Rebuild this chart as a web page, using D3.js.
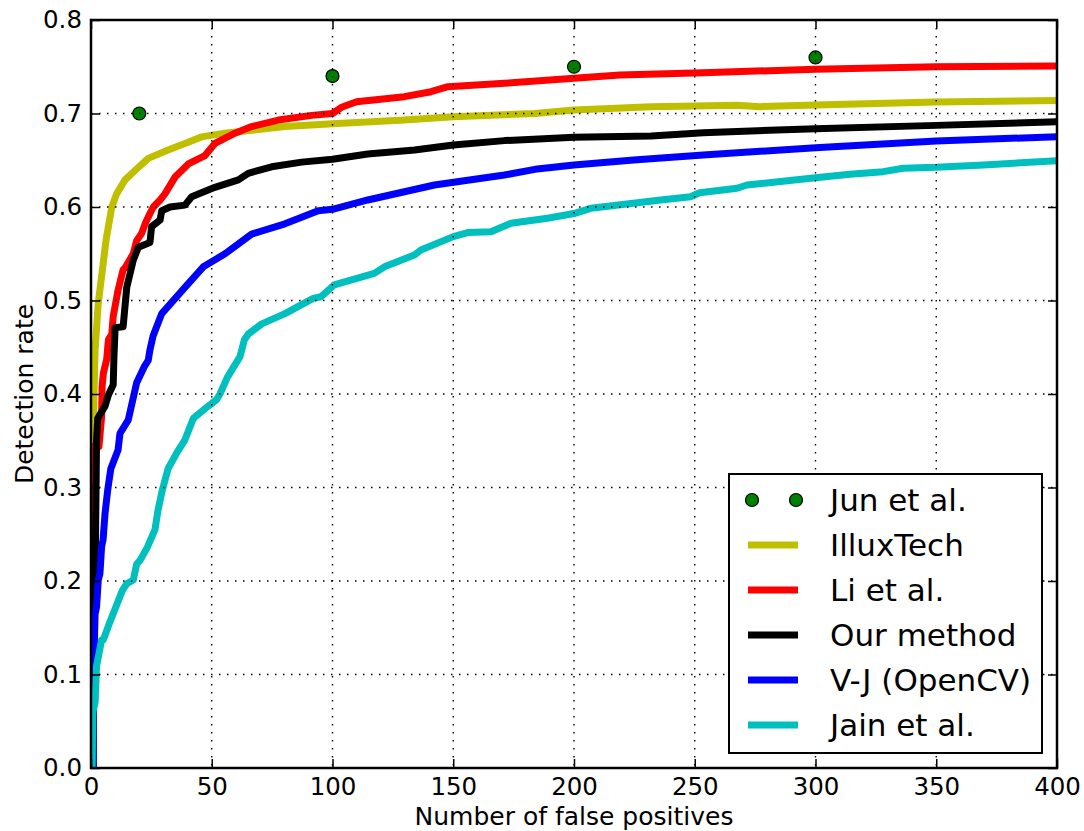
<!DOCTYPE html>
<html><head><meta charset="utf-8">
<script src="https://cdn.jsdelivr.net/npm/d3@7"></script>
<style>body{margin:0;background:#fff}svg{display:block;font-family:"DejaVu Sans",sans-serif}</style>
</head><body><svg id="c" width="1084" height="831"></svg>
<script>
const xTicks = [0, 50, 100, 150, 200, 250, 300, 350, 400];
const yTicks = [0.0, 0.1, 0.2, 0.3, 0.4, 0.5, 0.6, 0.7, 0.8];
const seriesNames = ["Jun et al.", "IlluxTech", "Li et al.", "Our method", "V-J (OpenCV)", "Jain et al."];
const seriesColors = ["#008000", "#bfbf00", "#ff0000", "#000000", "#0000ff", "#00bfbf"];

const junX = [20, 100, 200, 300];
const junY = [0.70, 0.74, 0.75, 0.76];

const illuxX = [0, 1.0, 1.2, 1.7, 3.0, 4.4, 6.2, 8.6, 10.6, 14.1, 18.2, 23.7, 31.9, 38.9, 45.8, 55.5, 66.5, 80.3, 100, 129.8, 150, 183.8, 200, 232, 250, 267.5, 277, 300, 350, 400];
const illuxY = [0.30, 0.344, 0.394, 0.447, 0.497, 0.526, 0.564, 0.600, 0.614, 0.629, 0.639, 0.652, 0.661, 0.668, 0.675, 0.679, 0.682, 0.686, 0.689, 0.693, 0.6966, 0.700, 0.7037, 0.7073, 0.708, 0.7087, 0.7073, 0.709, 0.7123, 0.714];

const liX = [0, 0.5, 0.8, 3.3, 4.4, 4.6, 5.1, 6.5, 7.2, 8.6, 9.2, 11.2, 13.3, 14.1, 17.5, 18.9, 21, 22.4, 24.4, 25.8, 28.6, 30.6, 34.8, 40.3, 47.2, 51.3, 59.6, 66.5, 77.6, 91.4, 100, 104, 110, 129.8, 140.8, 147.8, 171.2, 200, 219, 253.5, 300, 350, 400];
const liY = [0.16, 0.30, 0.344, 0.344, 0.376, 0.408, 0.422, 0.437, 0.458, 0.464, 0.483, 0.511, 0.533, 0.535, 0.550, 0.564, 0.572, 0.582, 0.593, 0.600, 0.6075, 0.614, 0.632, 0.646, 0.655, 0.668, 0.679, 0.686, 0.693, 0.698, 0.700, 0.707, 0.7126, 0.718, 0.7233, 0.7287, 0.7323, 0.7376, 0.7412, 0.7437, 0.7473, 0.750, 0.7508];

const ourX = [0, 1, 1.7, 2.3, 2.8, 5.8, 7.2, 9.2, 9.5, 10, 13.3, 14.8, 17.5, 19.6, 24.4, 25.1, 28.6, 29.3, 32.7, 38.9, 41.7, 51.3, 61, 65.1, 74.8, 87.2, 100, 114.6, 134, 150, 171.2, 200, 232, 253.5, 300, 350, 400];
const ourY = [0.0, 0.10, 0.20, 0.351, 0.374, 0.387, 0.399, 0.410, 0.440, 0.471, 0.472, 0.514, 0.543, 0.557, 0.562, 0.579, 0.586, 0.596, 0.600, 0.602, 0.611, 0.621, 0.629, 0.636, 0.643, 0.648, 0.651, 0.6567, 0.661, 0.6663, 0.671, 0.6745, 0.676, 0.6795, 0.6838, 0.6873, 0.6912];

const vjX = [1, 1.0, 1.7, 2.3, 3, 3.7, 4.4, 5, 5.8, 6.9, 8.2, 11.2, 12, 15.4, 18.9, 22, 23.7, 24.4, 25.7, 29.3, 38.9, 46.5, 55.5, 66.5, 80.3, 94.1, 100, 114.6, 142.2, 171.2, 183.8, 200, 224.7, 253.5, 300, 350, 400];
const vjY = [0.0, 0.094, 0.165, 0.172, 0.201, 0.208, 0.237, 0.244, 0.272, 0.297, 0.320, 0.340, 0.358, 0.372, 0.412, 0.429, 0.436, 0.447, 0.462, 0.486, 0.514, 0.536, 0.550, 0.571, 0.582, 0.596, 0.5975, 0.6075, 0.6235, 0.6342, 0.6403, 0.645, 0.6503, 0.6556, 0.6634, 0.6706, 0.6752];

const jainX = [0.5, 0.7, 1.7, 2.3, 4.4, 5.1, 7.5, 13, 14.8, 17.5, 18.9, 20.3, 23.3, 26.5, 27.7, 29.5, 31.9, 35.5, 38.9, 42.4, 48.5, 52, 53.4, 56.5, 61.7, 63.5, 65.1, 70.7, 80.3, 92, 95.2, 100.7, 117.3, 121.5, 133.9, 136.6, 150, 156, 165.6, 173.9, 189, 200, 206.9, 235.9, 248.3, 252, 267.5, 271.6, 300, 314.2, 328, 336.3, 350, 369.6, 400];
const jainY = [0.0, 0.059, 0.070, 0.109, 0.137, 0.137, 0.154, 0.190, 0.197, 0.201, 0.218, 0.222, 0.236, 0.255, 0.275, 0.297, 0.320, 0.337, 0.351, 0.374, 0.387, 0.394, 0.400, 0.418, 0.440, 0.458, 0.464, 0.475, 0.486, 0.5023, 0.504, 0.5166, 0.529, 0.536, 0.5487, 0.554, 0.5683, 0.5726, 0.5736, 0.5826, 0.588, 0.593, 0.5986, 0.6075, 0.611, 0.6153, 0.620, 0.6235, 0.6313, 0.635, 0.6378, 0.6414, 0.6424, 0.645, 0.6495];

const lineSeries = [
  {name: seriesNames[1], color: seriesColors[1], xs: illuxX, ys: illuxY},
  {name: seriesNames[2], color: seriesColors[2], xs: liX, ys: liY},
  {name: seriesNames[3], color: seriesColors[3], xs: ourX, ys: ourY},
  {name: seriesNames[4], color: seriesColors[4], xs: vjX, ys: vjY},
  {name: seriesNames[5], color: seriesColors[5], xs: jainX, ys: jainY}
];

const L = 91, R = 1057, T = 20, B = 768;
const svg = d3.select("#c");
const x = d3.scaleLinear().domain([0, 400]).range([L, R]);
const y = d3.scaleLinear().domain([0, 0.8]).range([B, T]);

svg.append("defs").append("clipPath").attr("id", "clip")
  .append("rect").attr("x", L).attr("y", T).attr("width", R - L).attr("height", B - T);

const plot = svg.append("g").attr("clip-path", "url(#clip)");
const line = d3.line().x(d => x(d[0])).y(d => y(d[1]));
lineSeries.forEach(s => {
  const pts = s.xs.map((v, i) => [v, s.ys[i]]);
  plot.append("path").datum(pts).attr("d", line)
    .attr("fill", "none").attr("stroke", s.color).attr("stroke-width", 7)
    .attr("stroke-linejoin", "round").attr("stroke-linecap", "butt");
});

// grid (on top, classic style)
const grid = svg.append("g");
xTicks.slice(1, -1).forEach(t => grid.append("line").attr("x1", x(t)).attr("x2", x(t)).attr("y1", T).attr("y2", B)
  .attr("stroke", "#000").attr("stroke-width", 1.4).attr("stroke-dasharray", "1.5,6.5"));
yTicks.slice(1, -1).forEach(t => grid.append("line").attr("y1", y(t)).attr("y2", y(t)).attr("x1", L).attr("x2", R)
  .attr("stroke", "#000").attr("stroke-width", 1.4).attr("stroke-dasharray", "1.5,6.5"));

// Jun et al. markers
plot.selectAll("circle.jun").data(junX.map((v, i) => [v, junY[i]])).enter().append("circle")
  .attr("cx", d => x(d[0])).attr("cy", d => y(d[1])).attr("r", 6.5)
  .attr("fill", seriesColors[0]).attr("stroke", "#000").attr("stroke-width", 1.2);

// axes with inward ticks on all sides
const tl = 9;
const fmtY = d3.format(".1f");
const axB = svg.append("g").attr("transform", `translate(0,${B})`).call(d3.axisBottom(x).tickValues(xTicks).tickSizeInner(-tl).tickSizeOuter(0).tickPadding(14).tickFormat(d3.format("d")));
const axT = svg.append("g").attr("transform", `translate(0,${T})`).call(d3.axisTop(x).tickValues(xTicks).tickSizeInner(-tl).tickSizeOuter(0).tickFormat(""));
const axL = svg.append("g").attr("transform", `translate(${L},0)`).call(d3.axisLeft(y).tickValues(yTicks).tickSizeInner(-tl).tickSizeOuter(0).tickPadding(9).tickFormat(fmtY));
const axR = svg.append("g").attr("transform", `translate(${R},0)`).call(d3.axisRight(y).tickValues(yTicks).tickSizeInner(-tl).tickSizeOuter(0).tickFormat(""));
[axB, axT, axL, axR].forEach(a => {
  a.select(".domain").remove();
  a.selectAll(".tick line").attr("stroke", "#000").attr("stroke-width", 1.5);
  a.selectAll("text").attr("font-size", 24.5).attr("font-family", "DejaVu Sans").attr("fill", "#000");
});
axB.selectAll("text").attr("dy", "0.71em").attr("y", 10);
svg.append("rect").attr("x", L).attr("y", T).attr("width", R - L).attr("height", B - T)
  .attr("fill", "none").attr("stroke", "#000").attr("stroke-width", 2.5);

svg.append("text").attr("x", (L + R) / 2).attr("y", 825).attr("text-anchor", "middle")
  .attr("font-size", 25).text("Number of false positives");
svg.append("text").attr("transform", `translate(33,${(T + B) / 2}) rotate(-90)`).attr("text-anchor", "middle")
  .attr("font-size", 25).text("Detection rate");

// legend
const lg = svg.append("g");
lg.append("rect").attr("x", 729).attr("y", 474).attr("width", 313).attr("height", 279)
  .attr("fill", "#fff").attr("stroke", "#000").attr("stroke-width", 2);
seriesNames.forEach((n, i) => {
  const cy = 500 + i * 45;
  if (i === 0) {
    [752, 796].forEach(cx => lg.append("circle").attr("cx", cx).attr("cy", cy).attr("r", 6.5)
      .attr("fill", seriesColors[0]).attr("stroke", "#000").attr("stroke-width", 1.2));
  } else {
    lg.append("line").attr("x1", 748).attr("x2", 798).attr("y1", cy).attr("y2", cy)
      .attr("stroke", seriesColors[i]).attr("stroke-width", 7);
  }
  lg.append("text").attr("x", 830).attr("y", cy).attr("dy", "0.36em").attr("font-size", 31).text(n);
});
</script></body></html>
